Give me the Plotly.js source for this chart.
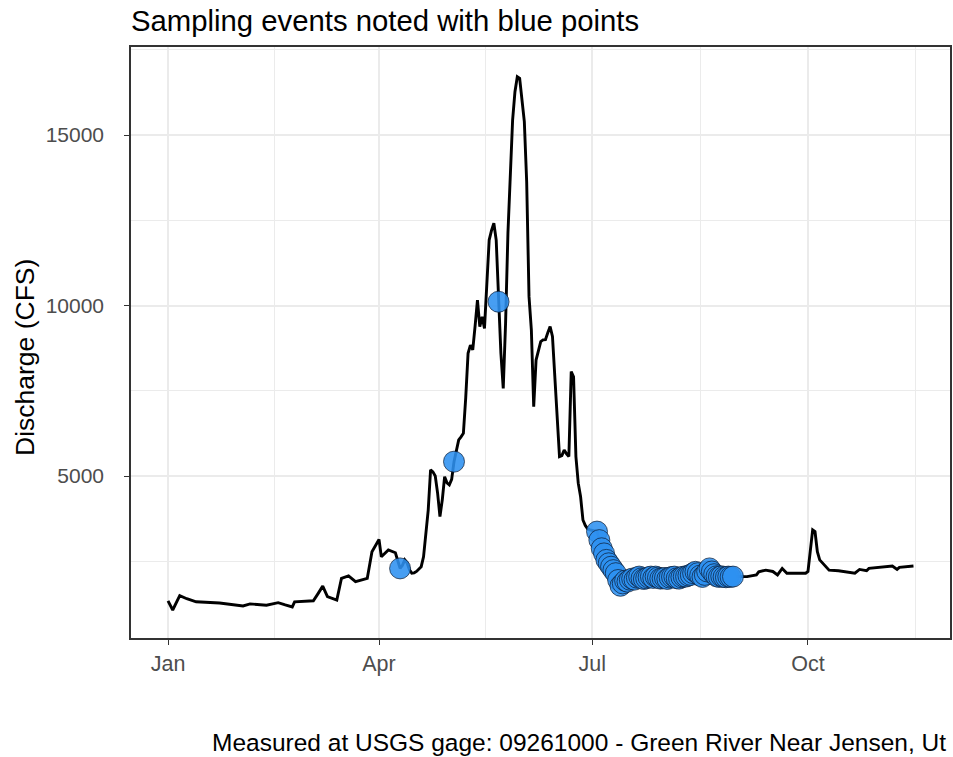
<!DOCTYPE html>
<html>
<head>
<meta charset="utf-8">
<script src="https://cdn.plot.ly/plotly-3.0.1.min.js"></script>
<style>
  html, body { margin: 0; padding: 0; background: #ffffff; }
  #chart { width: 953px; height: 757px; }
</style>
</head>
<body>
<div id="chart"></div>
<script>
// Daily mean discharge (CFS), Green River near Jensen, UT
const flowDates = [
  "2019-01-01","2019-01-03","2019-01-06","2019-01-09","2019-01-13","2019-01-23",
  "2019-02-02","2019-02-05","2019-02-12","2019-02-17","2019-02-20","2019-02-23","2019-02-24",
  "2019-03-04","2019-03-06","2019-03-08","2019-03-10","2019-03-14","2019-03-16","2019-03-19",
  "2019-03-22","2019-03-27","2019-03-29",
  "2019-04-01","2019-04-02","2019-04-05","2019-04-08","2019-04-09","2019-04-10","2019-04-11",
  "2019-04-12","2019-04-13","2019-04-14","2019-04-15","2019-04-16","2019-04-17","2019-04-18",
  "2019-04-19","2019-04-20","2019-04-21","2019-04-22","2019-04-23","2019-04-24","2019-04-25",
  "2019-04-26","2019-04-27","2019-04-28","2019-04-29","2019-04-30",
  "2019-05-01","2019-05-02","2019-05-03","2019-05-04","2019-05-05","2019-05-06","2019-05-07",
  "2019-05-08","2019-05-09","2019-05-10","2019-05-11","2019-05-12","2019-05-13","2019-05-14",
  "2019-05-15","2019-05-16","2019-05-17","2019-05-18","2019-05-19","2019-05-20","2019-05-21",
  "2019-05-22","2019-05-23","2019-05-24","2019-05-25","2019-05-26","2019-05-27","2019-05-28",
  "2019-05-29","2019-05-30","2019-05-31",
  "2019-06-01","2019-06-02","2019-06-03","2019-06-04","2019-06-05","2019-06-06","2019-06-07",
  "2019-06-08","2019-06-09","2019-06-10","2019-06-11","2019-06-12","2019-06-13","2019-06-14",
  "2019-06-15","2019-06-16","2019-06-17","2019-06-18","2019-06-19","2019-06-20","2019-06-21",
  "2019-06-22","2019-06-23","2019-06-24","2019-06-25","2019-06-26","2019-06-27","2019-06-28",
  "2019-06-29","2019-06-30",
  "2019-07-01","2019-07-02","2019-07-03","2019-07-04","2019-07-05","2019-07-06","2019-07-07",
  "2019-07-08","2019-07-09","2019-07-10","2019-07-11","2019-07-12","2019-07-13","2019-07-14",
  "2019-07-15","2019-07-16","2019-07-17","2019-07-18","2019-07-19","2019-07-20","2019-07-21",
  "2019-07-22","2019-07-23","2019-07-24","2019-07-25","2019-07-26","2019-07-27","2019-07-28",
  "2019-07-29","2019-07-30","2019-07-31",
  "2019-08-01","2019-08-02","2019-08-03","2019-08-04","2019-08-05","2019-08-06","2019-08-07",
  "2019-08-08","2019-08-09","2019-08-10","2019-08-11","2019-08-12","2019-08-13","2019-08-14",
  "2019-08-15","2019-08-16","2019-08-17","2019-08-18","2019-08-19","2019-08-20","2019-08-21",
  "2019-08-22","2019-08-23","2019-08-24","2019-08-25","2019-08-26","2019-08-27","2019-08-28",
  "2019-08-29","2019-08-30","2019-08-31",
  "2019-09-05","2019-09-09","2019-09-10","2019-09-13","2019-09-16","2019-09-18","2019-09-20",
  "2019-09-22","2019-09-30",
  "2019-10-01","2019-10-02","2019-10-03","2019-10-04","2019-10-05","2019-10-06","2019-10-08",
  "2019-10-10","2019-10-14","2019-10-21","2019-10-23","2019-10-26","2019-10-27",
  "2019-11-03","2019-11-06","2019-11-08","2019-11-09","2019-11-15"
];

const flowCfs = [
  1340, 1070, 1490, 1400, 1310, 1275,
  1190, 1250, 1210, 1285, 1220, 1160, 1310,
  1340, 1550, 1770, 1460, 1360, 2000, 2070,
  1900, 2000, 2780,
  3140, 2630, 2830, 2750, 2500, 2290, 2380,
  2540, 2450, 2250, 2150, 2160, 2200, 2280,
  2340, 2630, 3420, 4000, 5180, 5120, 5000,
  4500, 3810, 4300, 4980, 4800,
  4740, 4900, 5420, 5800, 6060, 6150, 6250,
  7300, 8600, 8840, 8700, 9400, 10160, 9380,
  9670, 9330, 10750, 11920, 12200, 12410, 11920,
  10110, 8600, 7570, 9480, 12120, 13780, 15440,
  16270, 16710, 16660,
  16030, 15390, 13630, 10260, 9280, 7030, 8400,
  8700, 8940, 8990, 9000, 9200, 9380, 9090,
  7910, 6450, 5570, 5600, 5760, 5650, 5570,
  8060, 7910, 5570, 4790, 4390, 3710, 3550,
  3450, 3420,
  3400, 3380, 3370, 3120, 2880, 2730, 2540,
  2440, 2340, 2240, 2150, 1950, 1780, 1850,
  1930, 1900, 1960, 1990, 1960, 2020, 2050,
  2000, 1980, 2000, 2030, 2050, 2010, 2050,
  2020, 1990, 2000,
  2010, 1980, 2020, 2040, 2050, 2000, 1990,
  2030, 2050, 2050, 2080, 2100, 2150, 2190,
  2150, 2080, 2040, 2100, 2200, 2290, 2200,
  2120, 2060, 2040, 2060, 2040, 2030, 2050,
  2040, 2050, 2050,
  2050, 2100, 2190, 2240, 2200, 2100, 2290,
  2150, 2150,
  2200, 2830, 3420, 3370, 2780, 2540, 2390,
  2240, 2220, 2150, 2260, 2220, 2290,
  2340, 2360, 2260, 2320, 2360
];

// Dates on which water samples were collected
const sampleDates = [
  "2019-04-10","2019-05-03","2019-05-22",
  "2019-07-03","2019-07-04","2019-07-05","2019-07-06","2019-07-07","2019-07-08","2019-07-09",
  "2019-07-10","2019-07-11","2019-07-12","2019-07-13","2019-07-14","2019-07-15","2019-07-16",
  "2019-07-17","2019-07-18","2019-07-19","2019-07-20","2019-07-21","2019-07-22","2019-07-23",
  "2019-07-24","2019-07-25","2019-07-26","2019-07-27","2019-07-28","2019-07-29","2019-07-30",
  "2019-07-31","2019-08-01","2019-08-02","2019-08-03","2019-08-04","2019-08-05","2019-08-06",
  "2019-08-07","2019-08-08","2019-08-09","2019-08-10","2019-08-11","2019-08-12","2019-08-13",
  "2019-08-14","2019-08-15","2019-08-16","2019-08-17","2019-08-18","2019-08-19","2019-08-20",
  "2019-08-21","2019-08-22","2019-08-23","2019-08-24","2019-08-25","2019-08-26","2019-08-27",
  "2019-08-28","2019-08-29","2019-08-30"
];

const monthTicks = ["2019-01-01","2019-04-01","2019-07-01","2019-10-01"];
const monthLabels = ["Jan","Apr","Jul","Oct"];
const monthMinor = ["2019-02-15 12:00","2019-05-16 12:00","2019-08-16","2019-11-16"];
const cfsTicks = [5000, 10000, 15000];
const cfsLabels = ["5000", "10000", "15000"];
const cfsMinor = [2500, 7500, 12500, 17500];

// discharge on each sampling date, taken from the daily record
const sampleCfs = sampleDates.map(d => flowCfs[flowDates.indexOf(d)]);

const FONT = "'Liberation Sans', Arial, sans-serif";

const traces = [
  {
    type: "scatter", mode: "lines",
    x: flowDates, y: flowCfs,
    line: { color: "#000000", width: 2.9 },
    hoverinfo: "x+y", showlegend: false
  },
  {
    type: "scatter", mode: "markers",
    x: sampleDates, y: sampleCfs,
    marker: {
      size: 21, color: "rgba(45,145,240,0.88)",
      line: { color: "rgba(10,25,50,0.7)", width: 1 }
    },
    hoverinfo: "x+y", showlegend: false
  }
];

const layout = {
  width: 953, height: 757,
  paper_bgcolor: "#ffffff", plot_bgcolor: "#ffffff",
  margin: { l: 131, r: 3, t: 47, b: 119, pad: 0 },
  font: { family: FONT, color: "#000000" },
  title: {
    text: "Sampling events noted with blue points",
    font: { family: FONT, size: 29.3, color: "#000000" },
    x: 131 / 953, xref: "container", xanchor: "left",
    y: 1 - 21 / 757, yref: "container", yanchor: "middle"
  },
  xaxis: {
    type: "date",
    range: ["2018-12-16 05:00", "2019-11-30 14:00"],
    tickmode: "array", tickvals: monthTicks, ticktext: monthLabels,
    ticks: "outside", ticklen: 5, tickwidth: 1.2, tickcolor: "#333333",
    tickfont: { family: FONT, size: 21.5, color: "#4D4D4D" },
    showgrid: true, gridcolor: "#EBEBEB", gridwidth: 1.6,
    minor: { tickmode: "array", tickvals: monthMinor, showgrid: true,
             gridcolor: "#EBEBEB", gridwidth: 1.2, ticks: "" },
    showline: true, linecolor: "#333333", linewidth: 1.5, mirror: true,
    zeroline: false, fixedrange: true
  },
  yaxis: {
    range: [249, 17581],
    tickmode: "array", tickvals: cfsTicks, ticktext: cfsLabels,
    ticks: "outside", ticklen: 5, tickwidth: 1.2, tickcolor: "#333333",
    tickfont: { family: FONT, size: 21, color: "#4D4D4D" },
    ticklabelstandoff: 16,
    showgrid: true, gridcolor: "#EBEBEB", gridwidth: 1.6,
    minor: { tickmode: "array", tickvals: cfsMinor, showgrid: true,
             gridcolor: "#EBEBEB", gridwidth: 1.2, ticks: "" },
    showline: true, linecolor: "#333333", linewidth: 1.5, mirror: true,
    zeroline: false, fixedrange: true
  },
  annotations: [
    {
      text: "Discharge (CFS)",
      textangle: -90,
      xref: "paper", x: 0, xshift: -106, xanchor: "center",
      yref: "paper", y: (638 - 358) / 591, yanchor: "middle",
      showarrow: false,
      font: { family: FONT, size: 26.5, color: "#000000" }
    },
    {
      text: "Measured at USGS gage: 09261000 - Green River Near Jensen, Ut",
      xref: "paper", x: 1, xanchor: "right", xshift: -2,
      yref: "paper", y: 0, yshift: -104, yanchor: "middle",
      showarrow: false,
      font: { family: FONT, size: 24.5, color: "#000000" }
    }
  ]
};

Plotly.newPlot("chart", traces, layout, { displayModeBar: false, responsive: false });
</script>
</body>
</html>
